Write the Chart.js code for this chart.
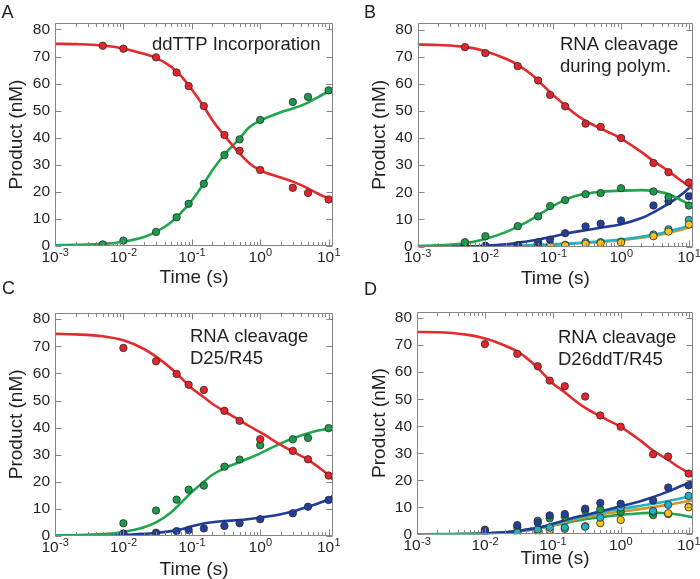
<!DOCTYPE html>
<html><head><meta charset="utf-8">
<script src="https://cdn.jsdelivr.net/npm/chart.js@4.4.1/dist/chart.umd.min.js"></script>
<style>
html,body{margin:0;padding:0;background:#fff;}
#wrap{position:relative;width:700px;height:579px;overflow:hidden;font-family:'Liberation Sans',Arial,sans-serif;background:#fff;}
canvas{position:absolute;}
.lbl{position:absolute;font-size:18px;line-height:18px;color:#231f20;z-index:5;}
</style></head><body>
<div id="wrap">
<canvas id="cA" width="350" height="290" style="left:0;top:0"></canvas>
<canvas id="cB" width="350" height="290" style="left:350px;top:0"></canvas>
<canvas id="cC" width="350" height="289" style="left:0;top:290px"></canvas>
<canvas id="cD" width="350" height="289" style="left:350px;top:290px"></canvas>
<div class="lbl" style="left:1.5px;top:3px">A</div>
<div class="lbl" style="left:364px;top:3px">B</div>
<div class="lbl" style="left:2px;top:279px">C</div>
<div class="lbl" style="left:364px;top:280px">D</div>
</div>
<script>
// ---------- data ----------
const xTickValues = [0.001, 0.01, 0.1, 1, 10];
const xTickBase = '10';
const xTickExps = ['-3', '-2', '-1', '0', '1'];
const yTickValues = [0, 10, 20, 30, 40, 50, 60, 70, 80];

const fitTimes = [0.001, 0.002, 0.005, 0.01, 0.02, 0.03, 0.05, 0.07, 0.1, 0.15, 0.2, 0.3, 0.5, 0.7, 1, 2, 3, 5, 7, 10, 11.6];
const timesAB = [0.005, 0.01, 0.03, 0.06, 0.09, 0.15, 0.3, 0.5, 1, 3, 5, 10];
const timesCD = [0.01, 0.03, 0.06, 0.09, 0.15, 0.3, 0.5, 1, 3, 5, 10];

// Panel A
const aRedPts   = [74.0, 72.9, 69.7, 64.1, 59.1, 51.7, 41.0, 35.2, 28.1, 21.5, 19.6, 17.2];
const aGreenPts = [0.6, 2.0, 5.2, 10.6, 15.6, 23.0, 33.6, 39.4, 46.6, 53.2, 55.1, 57.5];
const aRedFit   = [74.7, 74.6, 74.1, 73.0, 71.0, 69.5, 66.2, 62.8, 57.8, 51.5, 46.5, 40.8, 34.2, 30.5, 28.0, 25.3, 23.8, 21.3, 19.3, 17.5, 16.5];
const aGreenFit = [0.3, 0.4, 0.8, 1.6, 3.3, 5.2, 8.8, 12.3, 16.8, 23.1, 28.0, 33.8, 39.8, 44.0, 46.3, 49.4, 50.8, 53.0, 55.0, 57.2, 58.4];

// Panel B
const bRedPts    = [73.5, 71.3, 66.5, 61.2, 55.9, 51.7, 45.3, 44.1, 40.0, 30.8, 27.4, 23.6];
const bGreenPts  = [1.6, 3.8, 7.5, 11.1, 14.9, 17.1, 19.3, 19.7, 21.5, 20.3, 18.2, 15.1];
const bBluePts   = [0.0, 0.3, 0.5, 1.6, 2.5, 4.9, 7.4, 8.4, 9.6, 15.1, 16.7, 18.5];
const bCyanPts   = [0.0, 0.0, 0.1, 0.1, 0.3, 0.6, 1.6, 1.6, 1.8, 4.4, 6.3, 9.8];
const bYellowPts = [0.0, 0.0, 0.0, 0.0, 0.2, 0.4, 1.0, 1.2, 1.5, 3.8, 5.5, 8.1];
const bRedFit    = [74.5, 74.3, 73.6, 72.0, 69.2, 67.0, 63.0, 59.5, 55.8, 52.0, 49.3, 46.3, 43.5, 41.8, 39.8, 34.8, 31.5, 27.8, 25.0, 22.3, 21.0];
const bGreenFit  = [0.2, 0.4, 1.2, 2.8, 5.3, 7.3, 10.3, 12.6, 15.0, 17.2, 18.4, 19.5, 20.1, 20.4, 20.6, 20.8, 20.5, 19.3, 17.6, 15.6, 14.8];
const bBlueFit   = [0.0, 0.0, 0.1, 0.3, 0.8, 1.4, 2.2, 2.9, 3.7, 4.7, 5.3, 6.0, 6.9, 7.5, 8.2, 10.5, 12.6, 15.8, 18.3, 21.5, 23.5];
const bCyanFit   = [0.0, 0.0, 0.05, 0.1, 0.2, 0.3, 0.5, 0.6, 0.8, 1.0, 1.2, 1.5, 1.9, 2.2, 2.6, 3.6, 4.3, 5.5, 6.5, 7.7, 8.3];
const bOrangeFit = [0.0, 0.0, 0.05, 0.1, 0.2, 0.3, 0.4, 0.5, 0.7, 0.9, 1.1, 1.4, 1.7, 2.0, 2.3, 3.2, 3.9, 5.0, 5.9, 7.0, 7.5];

// Panel C
const cRedPts   = [69.4, 64.5, 59.8, 55.8, 53.9, 46.2, 42.5, 35.7, 31.4, 28.3, 22.3];
const cGreenPts = [4.7, 9.4, 13.4, 17.1, 18.6, 25.6, 28.2, 33.5, 35.7, 36.2, 39.8];
const cBluePts  = [0.9, 1.2, 1.8, 2.2, 2.8, 3.7, 4.7, 6.2, 8.4, 10.8, 13.3];
const cRedFit   = [74.6, 74.4, 73.7, 72.2, 69.0, 66.2, 61.8, 58.3, 54.5, 51.2, 48.8, 46.0, 42.8, 40.5, 38.3, 33.6, 31.1, 28.1, 25.5, 22.5, 20.8];
const cGreenFit = [0.2, 0.3, 0.7, 1.5, 3.2, 5.0, 8.8, 12.3, 16.2, 20.0, 22.6, 25.0, 27.3, 28.8, 30.5, 34.2, 36.0, 37.9, 38.9, 39.6, 39.8];
const cBlueFit  = [0.0, 0.1, 0.2, 0.4, 0.8, 1.1, 1.8, 2.5, 3.6, 4.6, 5.1, 5.5, 5.9, 6.3, 6.8, 8.0, 9.0, 10.8, 12.0, 13.6, 14.9];

// Panel D
const dRedPts    = [70.4, 66.8, 62.2, 56.9, 54.8, 51.0, 44.0, 39.8, 29.6, 28.8, 22.5];
const dBluePts   = [1.2, 3.4, 4.3, 7.0, 7.5, 9.5, 11.6, 11.3, 12.5, 17.3, 18.1];
const dGreenPts  = [1.7, 2.5, 5.0, 5.9, 6.5, 8.8, 9.3, 8.3, 7.1, 7.5, 10.2];
const dCyanPts   = [0.8, 0.7, 1.8, 2.5, 2.5, 2.8, 6.2, 9.9, 8.6, 10.9, 14.2];
const dYellowPts = [0.5, 0.5, 1.0, 1.5, 2.0, 3.0, 4.1, 5.3, 8.4, 7.8, 10.0];
const dRedFit    = [74.9, 74.8, 74.0, 72.5, 69.8, 67.7, 63.5, 59.8, 55.8, 52.6, 50.0, 46.8, 43.7, 41.8, 39.8, 34.5, 31.0, 27.5, 25.0, 22.6, 21.1];
const dBlueFit   = [0.0, 0.0, 0.1, 0.3, 0.7, 1.2, 2.1, 2.8, 3.9, 5.2, 6.1, 7.1, 8.4, 9.4, 10.4, 12.3, 13.8, 15.8, 17.4, 19.0, 20.1];
const dCyanFit   = [0.0, 0.0, 0.1, 0.3, 0.7, 1.2, 2.0, 2.7, 3.7, 4.9, 5.8, 6.8, 8.0, 8.8, 9.4, 10.6, 11.3, 12.3, 13.1, 14.0, 14.4];
const dOrangeFit = [0.0, 0.0, 0.1, 0.3, 0.7, 1.1, 1.8, 2.5, 3.4, 4.5, 5.3, 6.3, 7.3, 7.9, 8.4, 9.4, 10.1, 10.9, 11.6, 12.3, 12.6];
const dGreenFit  = [0.0, 0.05, 0.1, 0.3, 0.7, 1.1, 1.8, 2.4, 3.2, 4.1, 4.8, 5.6, 6.3, 6.8, 7.2, 7.8, 8.0, 7.8, 7.3, 6.6, 6.3];

// ---------- styling ----------
const FONT = "'Liberation Sans', Arial, sans-serif";
const TXT = '#231f20';
const COL = {
  red:    {pt: '#e3242b', line: '#e42a2c'},
  green:  {pt: '#1c9a4c', line: '#1ea64c'},
  blue:   {pt: '#22409a', line: '#1f3c9b'},
  cyan:   {pt: '#23aec8', line: '#25b3c1'},
  yellow: {pt: '#f6c21d', line: '#d39530'}
};

function fitDS(vals, color) {
  return {
    data: fitTimes.map((t, i) => ({x: t, y: vals[i]})),
    showLine: true, pointRadius: 0, pointHoverRadius: 0,
    borderColor: color, borderWidth: 2.6, cubicInterpolationMode: 'monotone',
    fill: false, order: 2
  };
}
function ptsDS(times, vals, color) {
  return {
    data: times.map((t, i) => ({x: t, y: vals[i]})),
    showLine: false, pointRadius: 3.7, pointHoverRadius: 3.7,
    backgroundColor: color, borderColor: '#2b2b2b', borderWidth: 0.8,
    order: 1
  };
}

const framePlugin = {
  id: 'frame',
  afterDraw(chart) {
    const {ctx, chartArea: a, scales: {x, y}} = chart;
    ctx.save();
    ctx.strokeStyle = '#858585';
    ctx.lineWidth = 1;
    ctx.beginPath();
    const L = Math.round(a.left) + 0.5, R = Math.round(a.right) - 0.5;
    const T = Math.round(a.top) + 0.5, B = Math.round(a.bottom) - 0.5;
    ctx.rect(L, T, R - L, B - T);
    yTickValues.forEach(v => {
      const py = Math.round(y.getPixelForValue(v)) + 0.5;
      ctx.moveTo(L, py); ctx.lineTo(L + 6, py);
      ctx.moveTo(R, py); ctx.lineTo(R - 6, py);
    });
    for (let e = -3; e <= 1; e++) {
      for (let m = 1; m <= 9; m++) {
        const t = m * Math.pow(10, e);
        if (t > x.max) break;
        const px = Math.round(x.getPixelForValue(t)) + 0.5;
        const len = m === 1 ? 6 : 3.5;
        ctx.moveTo(px, B); ctx.lineTo(px, B - len);
        ctx.moveTo(px, T); ctx.lineTo(px, T + len);
      }
    }
    ctx.stroke();
    // x tick labels: 10 with superscript exponent
    ctx.fillStyle = TXT;
    ctx.textBaseline = 'alphabetic';
    ctx.textAlign = 'left';
    const baseFont = '15.5px ' + FONT, expFont = '11px ' + FONT;
    xTickValues.forEach((v, i) => {
      const px = x.getPixelForValue(v);
      ctx.font = baseFont; const wb = ctx.measureText(xTickBase).width;
      ctx.font = expFont; const we = ctx.measureText(xTickExps[i]).width;
      const sx = px - (wb + we) / 2;
      ctx.font = baseFont; ctx.fillText(xTickBase, sx, a.bottom + 15.8);
      ctx.font = expFont; ctx.fillText(xTickExps[i], sx + wb + 0.3, a.bottom + 10.3);
    });
    // annotation text
    const ann = chart.options.plugins.frame.text;
    ctx.font = '18.5px ' + FONT;
    ann.lines.forEach((s, i) => ctx.fillText(s, ann.x, ann.y[i]));
    ctx.restore();
  }
};

function makePanel(id, g, datasets, text) {
  new Chart(document.getElementById(id), {
    type: 'scatter',
    data: {datasets},
    plugins: [framePlugin],
    options: {
      responsive: false, animation: false, events: [],
      layout: {padding: {left: 0, top: g.top, right: g.rp, bottom: 0}},
      plugins: {legend: {display: false}, tooltip: {enabled: false}, frame: {text}},
      scales: {
        x: {
          type: 'logarithmic', min: 0.001, max: 11.6,
          grid: {display: false, drawTicks: false}, border: {display: false},
          afterBuildTicks: s => { s.ticks = xTickValues.map(v => ({value: v})); },
          afterFit: s => { s.height = g.xh; s.paddingLeft = 0; s.paddingRight = 0; },
          ticks: {display: false, autoSkip: false, maxRotation: 0,
                  callback: (v, i) => xTickBase + '^' + xTickExps[i]},
          title: {display: true, text: 'Time (s)', color: TXT,
                  font: {family: FONT, size: 19, lineHeight: 1}, padding: {top: 0, bottom: g.xtp}}
        },
        y: {
          min: 0, max: 82.4,
          grid: {display: false, drawTicks: false}, border: {display: false},
          afterBuildTicks: s => { s.ticks = yTickValues.map(v => ({value: v})); },
          afterFit: s => { s.width = g.left; s.paddingTop = 0; s.paddingBottom = 0; },
          ticks: {padding: 5, color: TXT, font: {family: FONT, size: 15.5}, callback: v => String(v)},
          title: {display: true, text: 'Product (nM)', color: TXT,
                  font: {family: FONT, size: 19, lineHeight: 1}, padding: {top: g.ytp, bottom: 0}}
        }
      }
    }
  });
}

makePanel('cA', {left: 55, top: 23, rp: 17, xh: 44, xtp: 2.5, ytp: 7.2}, [
  ptsDS(timesAB, aRedPts, COL.red.pt), ptsDS(timesAB, aGreenPts, COL.green.pt),
  fitDS(aRedFit, COL.red.line), fitDS(aGreenFit, COL.green.line)
], {lines: ['ddTTP Incorporation'], x: 152, y: [50]});

makePanel('cB', {left: 67.5, top: 23, rp: 6.7, xh: 43.5, xtp: 1.5, ytp: 20.5}, [
  ptsDS(timesAB, bRedPts, COL.red.pt), ptsDS(timesAB, bGreenPts, COL.green.pt),
  ptsDS(timesAB, bBluePts, COL.blue.pt), ptsDS(timesAB, bYellowPts, COL.yellow.pt),
  ptsDS(timesAB, bCyanPts, COL.cyan.pt),
  fitDS(bRedFit, COL.red.line), fitDS(bGreenFit, COL.green.line), fitDS(bBlueFit, COL.blue.line),
  fitDS(bCyanFit, COL.cyan.line), fitDS(bOrangeFit, COL.yellow.line)
], {lines: ['RNA cleavage', 'during polym.'], x: 210, y: [50, 72]});

makePanel('cC', {left: 55, top: 22.7, rp: 17, xh: 43, xtp: 0, ytp: 7.2}, [
  ptsDS(timesCD, cRedPts, COL.red.pt), ptsDS(timesCD, cGreenPts, COL.green.pt),
  ptsDS(timesCD, cBluePts, COL.blue.pt),
  fitDS(cRedFit, COL.red.line), fitDS(cGreenFit, COL.green.line), fitDS(cBlueFit, COL.blue.line)
], {lines: ['RNA cleavage', 'D25/R45'], x: 190, y: [51.7, 74]});

makePanel('cD', {left: 67, top: 21.7, rp: 7, xh: 44.7, xtp: 10.3, ytp: 20.5}, [
  ptsDS(timesCD, dRedPts, COL.red.pt), ptsDS(timesCD, dBluePts, COL.blue.pt),
  ptsDS(timesCD, dCyanPts, COL.cyan.pt), ptsDS(timesCD, dYellowPts, COL.yellow.pt),
  ptsDS(timesCD, dGreenPts, COL.green.pt),
  fitDS(dRedFit, COL.red.line), fitDS(dBlueFit, COL.blue.line), fitDS(dCyanFit, COL.cyan.line),
  fitDS(dOrangeFit, COL.yellow.line), fitDS(dGreenFit, COL.green.line)
], {lines: ['RNA cleavage', 'D26ddT/R45'], x: 208, y: [52.7, 75]});
</script>
</body></html>
